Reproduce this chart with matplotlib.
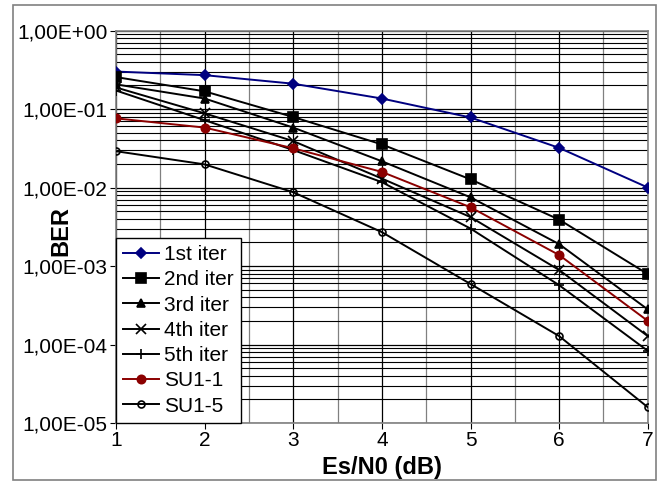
import matplotlib
matplotlib.use("Agg")
import matplotlib.pyplot as plt
from matplotlib.patches import Rectangle
from matplotlib.ticker import FixedLocator, LogLocator, FuncFormatter

plt.rcParams['font.family'] = ['Liberation Sans', 'DejaVu Sans']

# Es/N0 (dB)
esn0 = [1, 2, 3, 4, 5, 6, 7]

# BER curves
iter1 = [0.30, 0.27, 0.21, 0.136, 0.078, 0.032, 0.010]
iter2 = [0.255, 0.168, 0.079, 0.0354, 0.0127, 0.0039, 0.00079]
iter3 = [0.206, 0.136, 0.058, 0.0216, 0.0075, 0.0019, 0.00028]
iter4 = [0.188, 0.088, 0.039, 0.013, 0.0042, 0.00089, 0.000128]
iter5 = [0.172, 0.072, 0.030, 0.0117, 0.0030, 0.00057, 0.000083]
su1_1 = [0.076, 0.058, 0.0316, 0.0158, 0.0056, 0.00138, 0.00020]
su1_5 = [0.029, 0.0197, 0.0087, 0.0027, 0.00059, 0.000128, 0.0000159]

fig = plt.figure(figsize=(6.63, 4.82), dpi=100)
ax = fig.add_axes([0.175, 0.1224, 0.802, 0.8143])

# series: (data, label, color, marker, size, face)
series = [
    (iter1, '1st iter', '#000080', 'D', 5, '#000080'),
    (iter2, '2nd iter', 'black', 's', 7, 'black'),
    (iter3, '3rd iter', 'black', '^', 6, 'black'),
    (iter4, '4th iter', 'black', 'x', 7, 'black'),
    (iter5, '5th iter', 'black', '+', 7, 'black'),
    (su1_1, 'SU1-1', '#8B0000', 'o', 6, '#8B0000'),
    (su1_5, 'SU1-5', 'black', 'o', 5, 'none'),
]
for d, lab, c, m, ms, fc in series:
    ax.plot(esn0, d, color=c, lw=1.4, marker=m, ms=ms, mfc=fc, mec=c,
            mew=1.2, label=lab, zorder=3)

ax.set_yscale('log')
ax.set_xlim(1, 7)
ax.set_ylim(1e-5, 1)

ax.yaxis.set_major_locator(LogLocator(base=10, numticks=10))
ax.yaxis.set_minor_locator(LogLocator(base=10, subs=range(2, 10), numticks=20))
ax.yaxis.set_major_formatter(FuncFormatter(lambda v, p: ('%.2E' % v).replace('.', ',')))
ax.yaxis.set_minor_formatter(FuncFormatter(lambda v, p: ''))
ax.xaxis.set_major_locator(FixedLocator(esn0))
ax.xaxis.set_minor_locator(FixedLocator([1.5, 2.5, 3.5, 4.5, 5.5, 6.5]))

ax.grid(True, which='major', axis='both', color='black', lw=0.9)
ax.grid(True, which='minor', axis='y', color='black', lw=0.8)
ax.grid(True, which='minor', axis='x', color='#808080', lw=0.9)
ax.set_axisbelow(True)

ax.tick_params(axis='both', which='major', direction='out', length=4,
               labelsize=15, color='black', pad=2)
ax.tick_params(axis='both', which='minor', length=0)
for s in ax.spines.values():
    s.set_color('#808080')
    s.set_linewidth(1.2)

ax.set_xlabel('Es/N0 (dB)', fontsize=17, fontweight='bold')
ax.set_ylabel('BER', fontsize=17, fontweight='bold')
ax.xaxis.set_label_coords(0.5, -0.085)
ax.yaxis.set_label_coords(-0.083, 0.49)

leg = ax.legend(loc='lower left', fontsize=15, fancybox=False, framealpha=1,
                edgecolor='black', borderaxespad=0, handlelength=1.7,
                handletextpad=0.25, labelspacing=0.3, borderpad=0.35)
leg.get_frame().set_linewidth(1.0)

fig.patches.append(Rectangle((13 / 663, 2 / 482), 643 / 663, 475 / 482,
                             transform=fig.transFigure, fill=False,
                             edgecolor='#808080', lw=1.2))

fig.savefig('out.png', dpi=100)
